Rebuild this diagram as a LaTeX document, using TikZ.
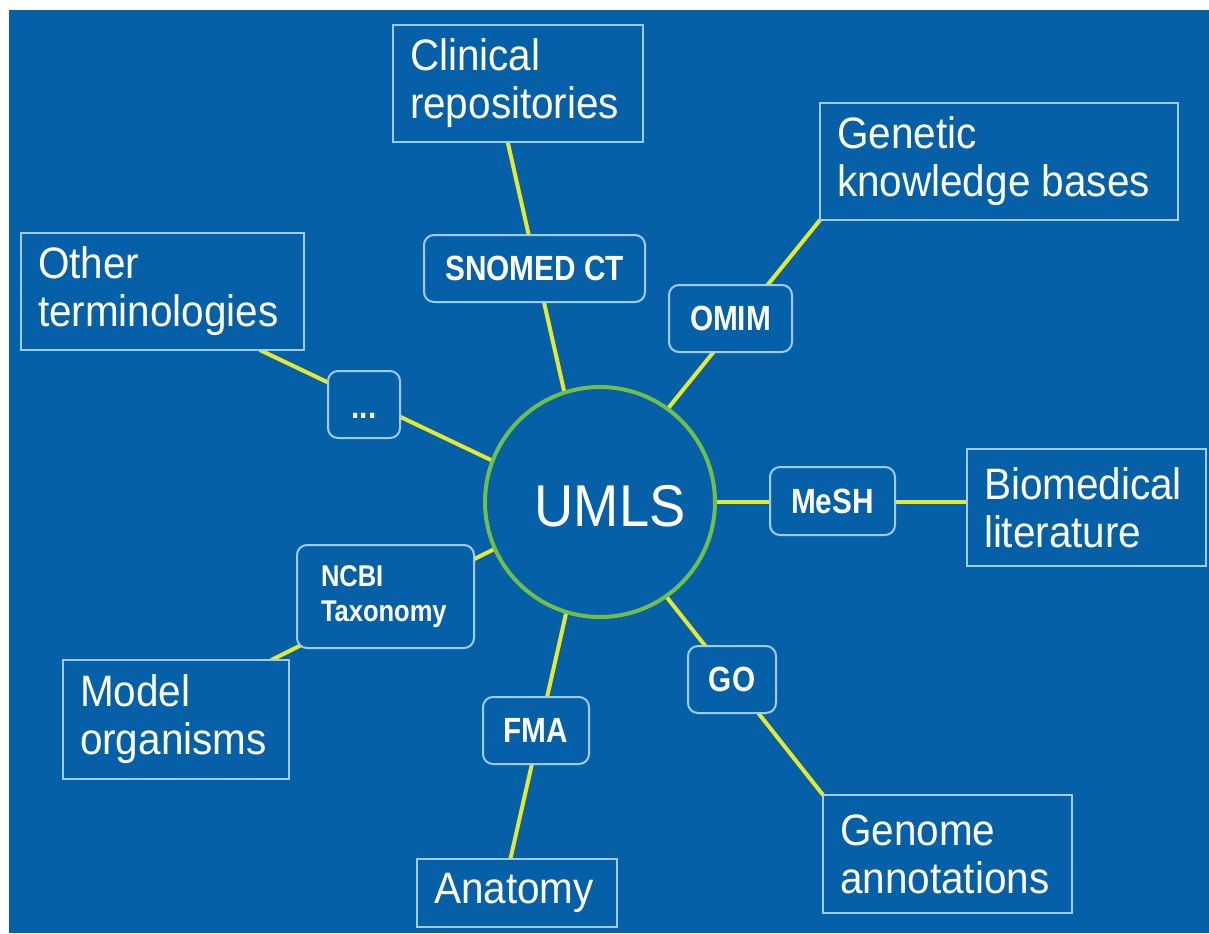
\documentclass[tikz,border=0pt]{standalone}
\usepackage{fontspec}
\setmainfont{Liberation Sans}
\newfontfamily\slidefont[FakeStretch=0.92]{Liberation Sans}
\newfontfamily\tagfont[FakeStretch=0.85]{Liberation Sans}
\newcommand\srcfont{\slidefont\fontsize{33}{36}\selectfont\spaceskip=0.256em\relax}
\newcommand\tagtextfont{\tagfont\bfseries\fontsize{26.25}{28}\selectfont\spaceskip=0.236em\relax}
\newcommand\ncbifont{\tagfont\bfseries\fontsize{22.5}{26.25}\selectfont}
\usetikzlibrary{backgrounds}
\definecolor{slideblue}{RGB}{6,96,168}
\definecolor{framecol}{RGB}{158,204,242}
\definecolor{linkyellow}{RGB}{228,232,48}
\definecolor{hubgreen}{RGB}{110,192,74}

\begin{document}
\begin{tikzpicture}[x=0.75pt, y=-0.75pt]
  \tikzset{srcbox/.style={draw=framecol, line width=1.5pt, fill=slideblue, text=white, inner xsep=12.75pt, inner ysep=0pt, outer sep=0pt, align=flush left, font=\srcfont},
    tagbox/.style={draw=framecol, line width=1.5pt, fill=slideblue, rounded corners=7.5pt, text=white, inner sep=0pt, outer sep=0pt, font=\tagtextfont},
    hub/.style={circle, draw=hubgreen, line width=3pt, minimum size=172.5pt, inner sep=0pt, outer sep=0pt},
    link/.style={draw=linkyellow, line width=3pt}}
  \useasboundingbox (0,0) rectangle (1209,933);
  % achtergrond
  \begin{pgfonlayer}{background}
    \fill[white] (0,0) rectangle (1209,933);
    \fill[slideblue] (9,10) rectangle (1209,933);
  \end{pgfonlayer}
  % UMLS in het midden
  \node[hub] (umls) at (600,502) {};
  \node[text=white, inner sep=0pt, font=\slidefont\fontsize{44.25}{50}\selectfont] (umlstext) at (610,506) {UMLS};
  % bronnen
  \node[srcbox, text width=162pt, minimum height=87.75pt] (clin) at (518,83.5) {Clinical\\repositories};
  \node[srcbox, text width=243pt, minimum height=87.75pt] (gen) at (999,161.5) {Genetic\\knowledge bases};
  \node[srcbox, text width=186.75pt, minimum height=87.75pt] (other) at (162.5,291.5) {Other\\terminologies};
  \node[srcbox, text width=153.75pt, minimum height=87.75pt] (bio) at (1086.5,507.5) {Biomedical\\literature};
  \node[srcbox, text width=161.25pt, minimum height=88.5pt] (genome) at (947.5,854) {Genome\\annotations};
  \node[srcbox, text width=144pt, minimum height=89.25pt] (model) at (176,719.5) {Model\\organisms};
  \node[srcbox, text width=124.5pt, minimum height=51pt] (anat) at (517,893) {Anatomy};
  % verbindingen
  \begin{pgfonlayer}{background}
    \draw[link] (clin.-100.6) -- (umls.108.3);
    \draw[link] (gen.south west) -- (umls.54.4);
    \draw[link] (other.-31) -- (umls.159.4);
    \draw[link] (umls.east) -- (umls.east -| bio.west);
    \draw[link] (umls.-55.2) -- (genome.north west);
    \draw[link] (umls.-156) -- (model.32.3);
    \draw[link] (umls.-107.8) -- (anat.101.6);
  \end{pgfonlayer}
  % terminologieen
  \node[tagbox, minimum width=165.75pt, minimum height=50.25pt] (snomed) at (534.5,268.5) {SNOMED CT};
  \node[tagbox, minimum width=92.25pt, minimum height=50.25pt] (omim) at (730.5,318.5) {OMIM};
  \node[tagbox, minimum width=54pt, minimum height=50.25pt, text height=21pt, text depth=0pt] (dots) at (364,404.5) {...};
  \node[tagbox, minimum width=93.75pt, minimum height=51pt] (mesh) at (832.5,501) {MeSH};
  \node[tagbox, minimum width=66pt, minimum height=50.25pt] (go) at (732,679.5) {GO};
  \node[tagbox, minimum height=77.25pt, inner xsep=18pt, text width=96.75pt, align=flush left, font=\ncbifont] (ncbi) at (385.5,596.5) {NCBI\\Taxonomy};
  \node[tagbox, minimum width=79.5pt, minimum height=50.25pt] (fma) at (536,730.5) {FMA};
\end{tikzpicture}
\end{document}
